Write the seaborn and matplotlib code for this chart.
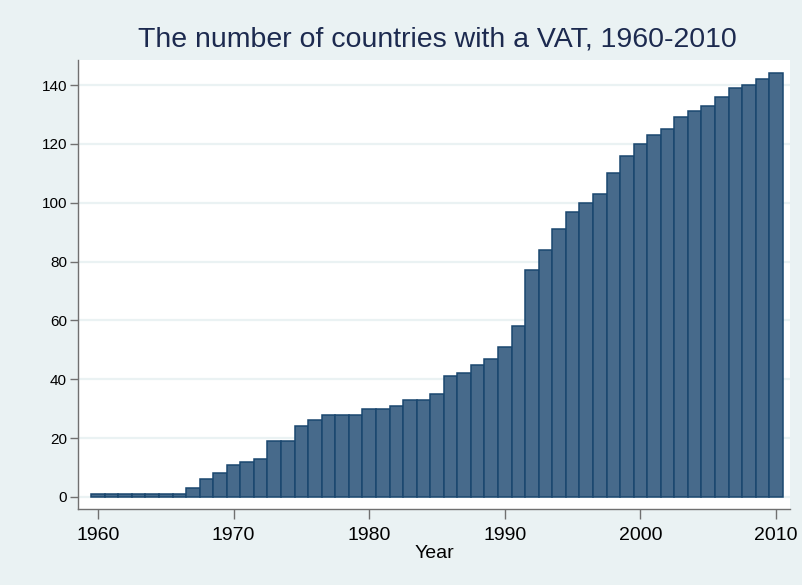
import seaborn as sns
import matplotlib.pyplot as plt
import pandas as pd

# years and number of countries with a VAT
years = list(range(1960, 2011))
countries = [1, 1, 1, 1, 1, 1, 1, 3, 6, 8,
             11, 12, 13, 19, 19, 24, 26, 28, 28, 28,
             30, 30, 31, 33, 33, 35, 41, 42, 45, 47,
             51, 58, 77, 84, 91, 97, 100, 103, 110, 116,
             120, 123, 125, 129, 131, 133, 136, 139, 140, 142,
             144]
xticks = [1960, 1970, 1980, 1990, 2000, 2010]
yticks = [0, 20, 40, 60, 80, 100, 120, 140]

df = pd.DataFrame({'Year': years, 'countries': countries})

bg = '#eaf2f3'
plt.rcParams['font.family'] = ['Liberation Sans', 'DejaVu Sans']

fig = plt.figure(figsize=(8.02, 5.85), dpi=100, facecolor=bg)
ax = fig.add_axes([78 / 802, 1 - 509 / 585, 712 / 802, 449 / 585])
ax.set_facecolor('white')

for y in yticks:
    ax.axhline(y, color=bg, lw=1.6, zorder=0)

sns.barplot(data=df, x='Year', y='countries', native_scale=True, width=1.0,
            color='#476a8b', saturation=1, edgecolor='#1a476f', linewidth=1.1,
            ax=ax, zorder=2)

ax.set_xlim(1958.53, 2011.03)
ax.set_ylim(-4.1, 148.5)
ax.set_xticks(xticks)
ax.set_yticks(yticks)
ax.tick_params(axis='x', labelsize=14, length=7, width=1, color='#707070', pad=6)
ax.tick_params(axis='y', labelsize=11, length=6, width=1, color='#707070', pad=2)
ax.set_xlabel('Year', fontsize=14, labelpad=1)
ax.set_ylabel('')
for side in ['top', 'right']:
    ax.spines[side].set_visible(False)
for side in ['left', 'bottom']:
    ax.spines[side].set_color('#707070')
    ax.spines[side].set_linewidth(1)

fig.text(437 / 802, 1 - 39 / 585, 'The number of countries with a VAT, 1960-2010',
         ha='center', va='center', fontsize=20.5, color='#1c2a4f')

fig.savefig('out.png', dpi=100, facecolor=bg)
